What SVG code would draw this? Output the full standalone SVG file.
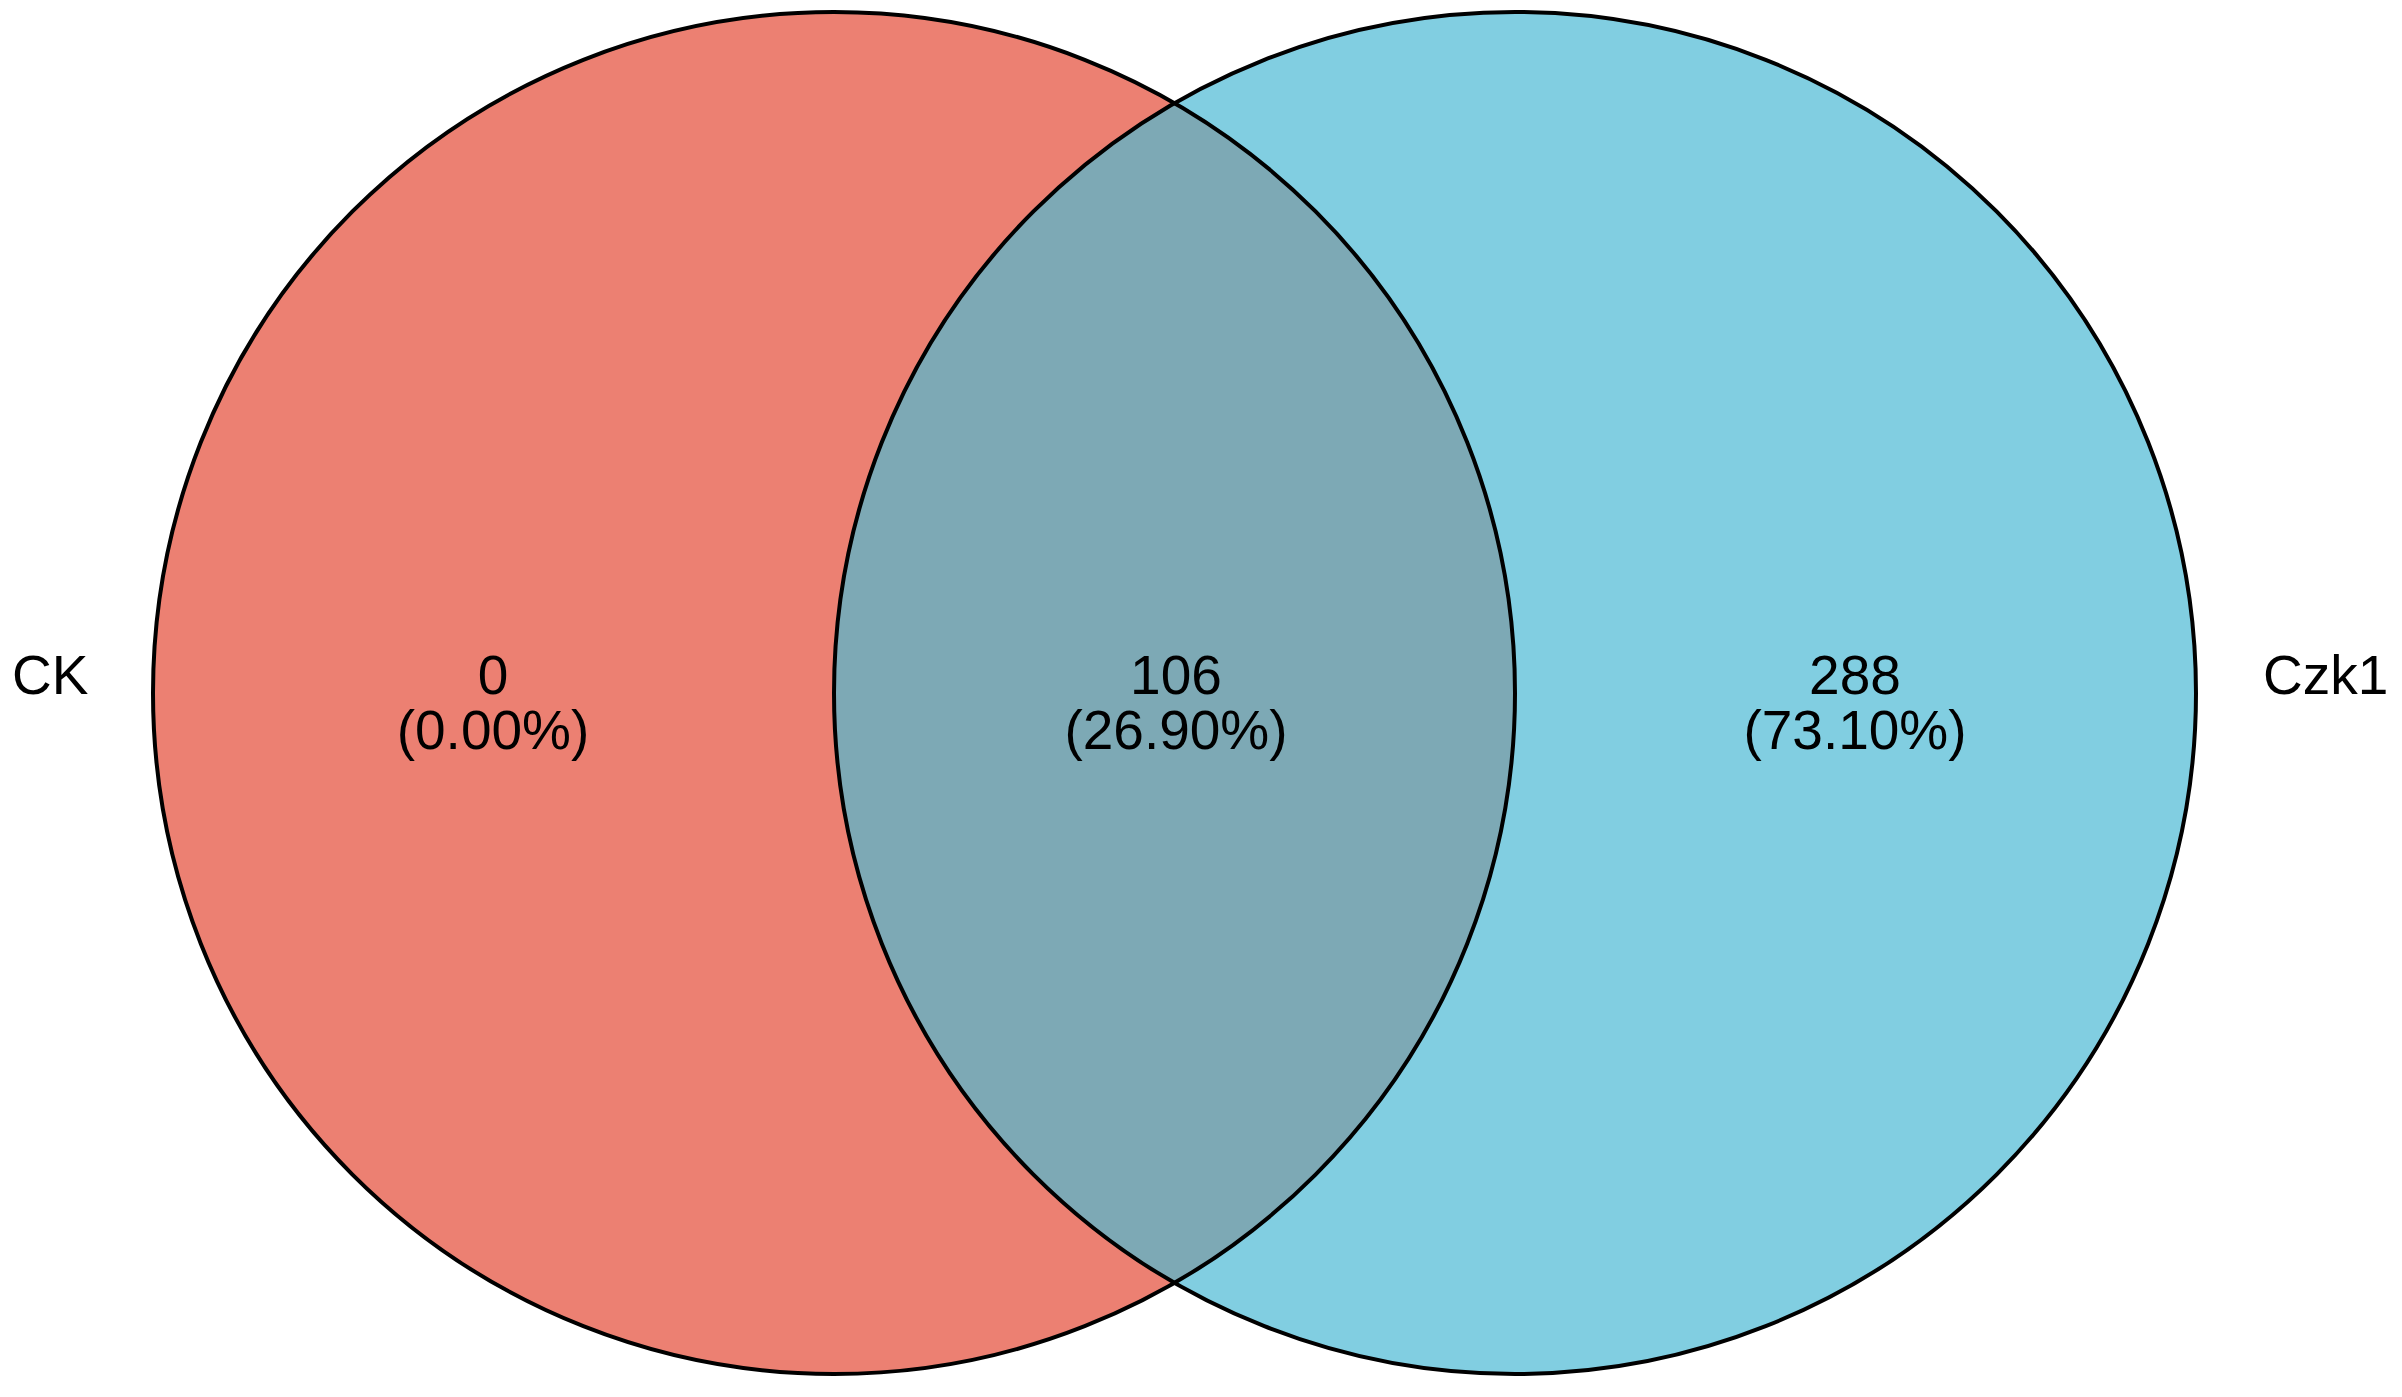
<svg xmlns="http://www.w3.org/2000/svg" width="2402" height="1397" viewBox="0 0 2402 1397">
<style>
text{font-family:"Liberation Sans",Arial,sans-serif;font-size:55px;fill:#000}
.c{text-anchor:middle}
.o{fill:none;stroke:#000;stroke-width:4}
</style>
<rect width="2402" height="1397" fill="#fff"/>
<g id="CK"><circle cx="834" cy="693" r="681" fill="#EC8072"/></g>
<g id="Czk1"><circle cx="1515" cy="693" r="681" fill="#81CEE1"/></g>
<g id="overlap"><path d="M1174.5,103.2 A681,681 0 0 1 1174.5,1282.8 A681,681 0 0 1 1174.5,103.2 Z" fill="#7DA9B5"/></g>
<g id="outlines">
<circle class="o" cx="834" cy="693" r="681"/>
<circle class="o" cx="1515" cy="693" r="681"/>
</g>
<g id="labels">
<text x="12" y="694">CK</text>
<text x="2263" y="694">Czk1</text>
<text class="c" x="493" y="694">0</text>
<text class="c" x="493" y="749">(0.00%)</text>
<text class="c" x="1176" y="694">106</text>
<text class="c" x="1176" y="749">(26.90%)</text>
<text class="c" x="1855" y="694">288</text>
<text class="c" x="1855" y="749">(73.10%)</text>
</g>
</svg>
